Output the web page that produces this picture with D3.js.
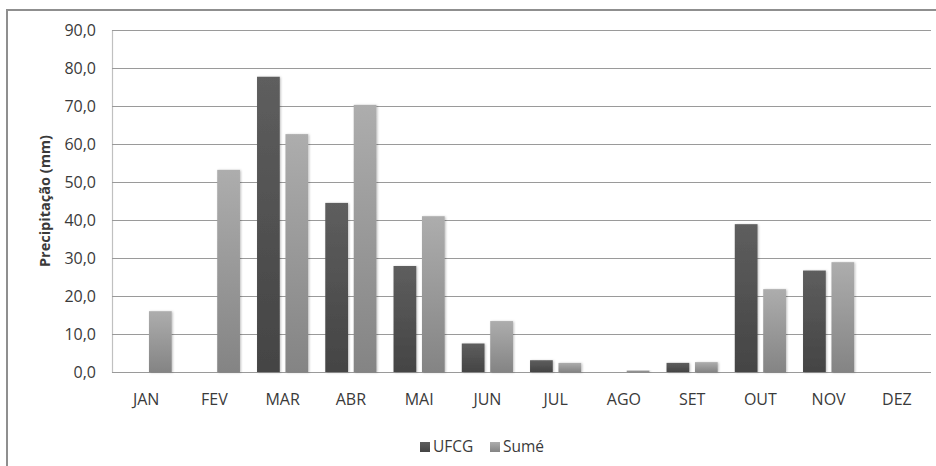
<!DOCTYPE html>
<html>
<head>
<meta charset="utf-8">
<script src="https://cdn.jsdelivr.net/npm/d3@7"></script>
<style>
  html, body { margin: 0; padding: 0; background: #fff; }
  svg { display: block; }
  text { font-family: "Open Sans", "Noto Sans", sans-serif; fill: #3a3a3a; }
</style>
</head>
<body>
<svg id="chart" width="936" height="466"></svg>
<script>
// Monthly precipitation (mm) at two stations
const months = ["JAN", "FEV", "MAR", "ABR", "MAI", "JUN", "JUL", "AGO", "SET", "OUT", "NOV", "DEZ"];
const seriesNames = ["UFCG", "Sumé"];
const ufcg = [0, 0, 77.7, 44.5, 27.9, 7.5, 3.1, 0, 2.4, 38.9, 26.7, 0];
const sume = [16.0, 53.2, 62.6, 70.3, 41.0, 13.4, 2.4, 0.4, 2.6, 21.8, 28.9, 0];
const yTicks = [0, 10, 20, 30, 40, 50, 60, 70, 80, 90];

const svg = d3.select("#chart");
const margin = { left: 112, right: 5, top: 30, bottom: 94 };
const W = 936, H = 466;

// chart frame (runs off the right and bottom edges)
svg.append("rect")
  .attr("x", 7).attr("y", 10).attr("width", 960).attr("height", 500)
  .attr("fill", "#fff").attr("stroke", "#8f8f8f").attr("stroke-width", 2);

const x0 = d3.scaleBand().domain(months)
  .range([margin.left, W - margin.right]).paddingInner(0.25).paddingOuter(0.125);
const x1 = d3.scaleBand().domain(seriesNames)
  .range([0, x0.bandwidth()]).paddingInner(0.2);
const y = d3.scaleLinear().domain([0, 90]).range([H - margin.bottom, margin.top]);

const defs = svg.append("defs");
const grads = [
  { id: "gUFCG", top: "#5e5e5e", bottom: "#444444" },
  { id: "gSume", top: "#adadad", bottom: "#848484" }
];
grads.forEach(g => {
  const lg = defs.append("linearGradient").attr("id", g.id)
    .attr("x1", 0).attr("y1", 0).attr("x2", 0).attr("y2", 1);
  lg.append("stop").attr("offset", "0%").attr("stop-color", g.top);
  lg.append("stop").attr("offset", "100%").attr("stop-color", g.bottom);
});
const f = defs.append("filter").attr("id", "shadow")
  .attr("x", "-20%").attr("y", "-20%").attr("width", "150%").attr("height", "150%");
f.append("feDropShadow").attr("dx", 1).attr("dy", 0.5).attr("stdDeviation", 0.9)
  .attr("flood-color", "#000").attr("flood-opacity", 0.25);

// gridlines
const yAxis = d3.axisLeft(y).tickValues(yTicks).tickSize(-(W - margin.right - margin.left))
  .tickPadding(16).tickFormat(d => d3.format(".1f")(d).replace(".", ","));
const gy = svg.append("g").attr("transform", `translate(${margin.left},0)`).call(yAxis);
gy.select(".domain").attr("stroke", "#c0c0c0").attr("stroke-width", 1.2);
gy.selectAll(".tick line").attr("stroke", "#9a9a9a").attr("stroke-width", 1.2);
gy.selectAll(".tick text").attr("font-size", 16).attr("fill", "#3a3a3a")
  .attr("font-family", "'Open Sans', sans-serif");

// bars
const data = months.map((m, i) => ({ m, vals: [ufcg[i], sume[i]] }));
const groups = svg.append("g").selectAll("g").data(data).join("g")
  .attr("transform", d => `translate(${x0(d.m)},0)`);
groups.selectAll("rect")
  .data(d => d.vals.map((v, k) => ({ v, s: seriesNames[k] })).filter(e => e.v > 0))
  .join("rect")
  .attr("x", d => x1(d.s))
  .attr("width", x1.bandwidth())
  .attr("y", d => y(d.v))
  .attr("height", d => y(0) - y(d.v))
  .attr("fill", d => d.s === "UFCG" ? "url(#gUFCG)" : "url(#gSume)")
  .attr("filter", "url(#shadow)");

// category labels
const xAxis = d3.axisBottom(x0).tickSize(0).tickPadding(22);
const gx = svg.append("g").attr("transform", `translate(0,${y(0)})`).call(xAxis);
gx.select(".domain").remove();
gx.selectAll(".tick text").attr("font-size", 16).attr("fill", "#3a3a3a")
  .attr("font-family", "'Open Sans', sans-serif");

// y-axis title
svg.append("text")
  .attr("transform", `translate(50,${(y(0) + y(90)) / 2}) rotate(-90)`)
  .attr("text-anchor", "middle")
  .attr("font-size", 14.5).attr("font-weight", "bold")
  .attr("fill", "#222")
  .text("Precipitação (mm)");

// legend
const legend = svg.append("g");
const legendItems = [
  { name: seriesNames[0], fill: "url(#gUFCG)", x: 420 },
  { name: seriesNames[1], fill: "url(#gSume)", x: 490 }
];
legendItems.forEach(it => {
  legend.append("rect").attr("x", it.x).attr("y", 442).attr("width", 10).attr("height", 10)
    .attr("fill", it.fill);
  legend.append("text").attr("x", it.x + 13).attr("y", 452)
    .attr("font-size", 15.5).text(it.name);
});
</script>
</body>
</html>
